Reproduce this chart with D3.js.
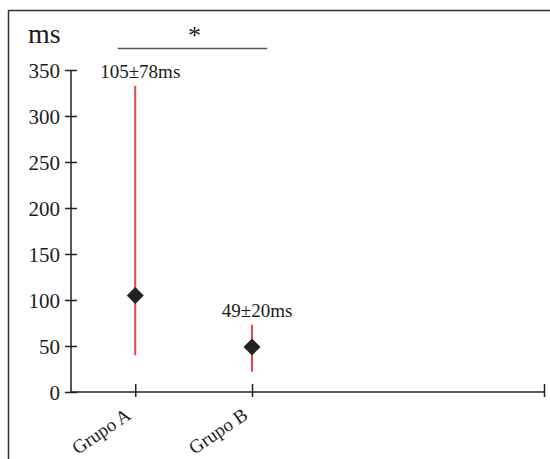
<!DOCTYPE html>
<html>
<head>
<meta charset="utf-8">
<script src="https://cdn.jsdelivr.net/npm/d3@7"></script>
<style>
  body { margin: 0; background: #fff; }
  svg { display: block; }
  text { font-family: "Liberation Serif", serif; fill: #1c1c1c; }
</style>
</head>
<body>
<div id="chart"></div>
<script>
// data
var groups = ["Grupo A", "Grupo B"];
var means = [105, 49];
var lows = [40, 22];
var highs = [333, 73];
var labels = ["105±78ms", "49±20ms"];
var yTicks = [0, 50, 100, 150, 200, 250, 300, 350];

var w = 550, h = 459;
var plotLeft = 71, plotRight = 544, plotTop = 70, plotBottom = 392;

var svg = d3.select("#chart").append("svg")
    .attr("width", w)
    .attr("height", h);

// outer frame (runs off the right and bottom edges)
svg.append("rect")
    .attr("x", 8.5).attr("y", 10.5)
    .attr("width", 600).attr("height", 500)
    .attr("fill", "none")
    .attr("stroke", "#333")
    .attr("stroke-width", 1.5);

// x is a linear position: group i sits at i+1
var x = d3.scaleLinear().domain([0.45, 4.5]).range([plotLeft, plotRight]);
var y = d3.scaleLinear().domain([0, 350]).range([plotBottom, plotTop]);

// y axis
var yAxis = svg.append("g")
    .attr("transform", "translate(" + plotLeft + ",0)")
    .call(d3.axisLeft(y).tickValues(yTicks).tickSize(6).tickPadding(5));
yAxis.select(".domain").attr("d", "M0," + y(350) + "V" + y(0)).attr("stroke", "#222").attr("stroke-width", 1.5);
yAxis.selectAll(".tick line").attr("x1", 6).attr("x2", -6).attr("stroke", "#222").attr("stroke-width", 1.5);
yAxis.selectAll(".tick text").attr("font-size", 21).attr("dy", "0.34em");

// x axis
var xAxis = svg.append("g")
    .attr("transform", "translate(0," + plotBottom + ")")
    .call(d3.axisBottom(x).tickValues([1, 2, 4.5]).tickSize(5).tickFormat(""));
xAxis.select(".domain").attr("d", "M" + plotLeft + ",0H" + plotRight).attr("stroke", "#222").attr("stroke-width", 1.5);
xAxis.selectAll(".tick line").attr("y1", -8).attr("y2", 5).attr("stroke", "#222").attr("stroke-width", 1.5);

svg.append("g").selectAll("text")
    .data(groups)
    .enter().append("text")
    .attr("transform", (d, i) => "translate(" + (x(i + 1) - 3) + "," + (plotBottom + 26) + ") rotate(-34)")
    .attr("text-anchor", "end")
    .attr("font-size", 19)
    .text(d => d);

// error lines
svg.append("g").selectAll("line")
    .data(groups)
    .enter().append("line")
    .attr("x1", (d, i) => x(i + 1))
    .attr("x2", (d, i) => x(i + 1))
    .attr("y1", (d, i) => y(lows[i]))
    .attr("y2", (d, i) => y(highs[i]))
    .attr("stroke", "#e8464f")
    .attr("stroke-width", 2);

// mean diamonds
svg.append("g").selectAll("path")
    .data(groups)
    .enter().append("path")
    .attr("transform", (d, i) => "translate(" + x(i + 1) + "," + y(means[i]) + ")")
    .attr("d", "M0,-8.5L8.5,0L0,8.5L-8.5,0Z")
    .attr("fill", "#222");

// value labels
svg.append("g").selectAll("text")
    .data(groups)
    .enter().append("text")
    .attr("x", (d, i) => x(i + 1) + 5)
    .attr("y", (d, i) => y(highs[i]) - 8)
    .attr("text-anchor", "middle")
    .attr("font-size", 19)
    .text((d, i) => labels[i]);

// unit label
svg.append("text")
    .attr("x", 28).attr("y", 43)
    .attr("font-size", 28)
    .text("ms");

// significance bar between the two groups
svg.append("line")
    .attr("x1", x(0.85)).attr("x2", x(2.13))
    .attr("y1", 48.5).attr("y2", 48.5)
    .attr("stroke", "#555")
    .attr("stroke-width", 1.5);
svg.append("text")
    .attr("x", (x(0.85) + x(2.13)) / 2 + 2)
    .attr("y", 44)
    .attr("text-anchor", "middle")
    .attr("font-size", 26)
    .text("*");
</script>
</body>
</html>
